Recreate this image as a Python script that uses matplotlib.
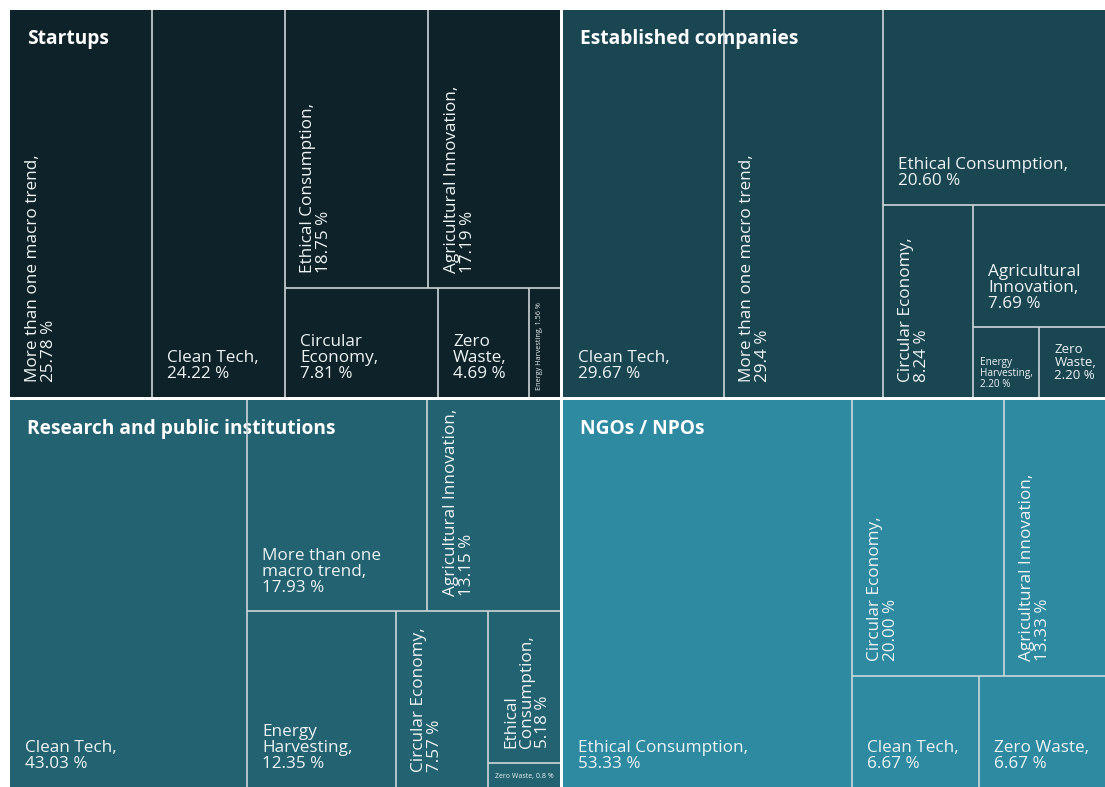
import matplotlib
matplotlib.use("Agg")
import matplotlib.pyplot as plt
from matplotlib.patches import Rectangle

plt.rcParams["font.family"] = ["Open Sans", "DejaVu Sans"]

# quadrant titles and fill colours
groups = ["Startups", "Established companies", "Research and public institutions", "NGOs / NPOs"]
group_colors = ["#0e2229", "#1a4652", "#236371", "#2d8aa0"]

startup_labels = ["More than one macro trend,\n{}", "Clean Tech,\n{}", "Ethical Consumption,\n{}",
                  "Agricultural Innovation,\n{}", "Circular\nEconomy,\n{}", "Zero\nWaste,\n{}",
                  "Energy Harvesting, {}"]
startup_pct = ["25.78 %", "24.22 %", "18.75 %", "17.19 %", "7.81 %", "4.69 %", "1.56 %"]
startup_values = [25.78, 24.22, 18.75, 17.19, 7.81, 4.69, 1.56]

established_labels = ["Clean Tech,\n{}", "More than one macro trend,\n{}", "Ethical Consumption,\n{}",
                      "Circular Economy,\n{}", "Agricultural\nInnovation,\n{}", "Energy\nHarvesting,\n{}",
                      "Zero\nWaste,\n{}"]
established_pct = ["29.67 %", "29.4 %", "20.60 %", "8.24 %", "7.69 %", "2.20 %", "2.20 %"]
established_values = [29.67, 29.4, 20.60, 8.24, 7.69, 2.20, 2.20]

research_labels = ["Clean Tech,\n{}", "More than one\nmacro trend,\n{}", "Agricultural Innovation,\n{}",
                   "Energy\nHarvesting,\n{}", "Circular Economy,\n{}", "Ethical\nConsumption,\n{}",
                   "Zero Waste, {}"]
research_pct = ["43.03 %", "17.93 %", "13.15 %", "12.35 %", "7.57 %", "5.18 %", "0.8 %"]
research_values = [43.03, 17.93, 13.15, 12.35, 7.57, 5.18, 0.80]

ngo_labels = ["Ethical Consumption,\n{}", "Circular Economy,\n{}", "Agricultural Innovation,\n{}",
              "Clean Tech,\n{}", "Zero Waste,\n{}"]
ngo_pct = ["53.33 %", "20.00 %", "13.33 %", "6.67 %", "6.67 %"]
ngo_values = [53.33, 20.00, 13.33, 6.67, 6.67]

# how each treemap is split: "h" = side by side, "v" = stacked
startup_tree = ("h", [0, 1, ("v", [("h", [2, 3]), ("h", [4, 5, 6])])])
established_tree = ("h", [0, 1, ("v", [2, ("h", [3, ("v", [4, ("h", [5, 6])])])])])
research_tree = ("h", [0, ("v", [("h", [1, 2]), ("h", [3, 4, ("v", [5, 6])])])])
ngo_tree = ("h", [0, ("v", [("h", [1, 2]), ("h", [3, 4])])])

startup_rot = [90, 0, 90, 90, 0, 0, 90]
established_rot = [0, 90, 0, 90, 0, 0, 0]
research_rot = [0, 0, 90, 0, 90, 90, 0]
ngo_rot = [0, 90, 90, 0, 0]

startup_size = [12.3, 12.3, 12.3, 12.3, 12.3, 12.3, 5.2]
established_size = [12.3, 12.3, 12.3, 12.3, 12.3, 7.2, 9.5]
research_size = [12.3, 12.3, 12.3, 12.3, 12.3, 12.3, 5.0]
ngo_size = [12.3, 12.3, 12.3, 12.3, 12.3]

TEXT = "#eef3f4"
EDGE = "#cdd6d9"


def total(node, values):
    if isinstance(node, int):
        return values[node]
    return sum(total(k, values) for k in node[1])


def layout(node, x0, y0, x1, y1, values, out):
    if isinstance(node, int):
        out[node] = (x0, y0, x1, y1)
        return
    d, kids = node
    sizes = [total(k, values) for k in kids]
    s = sum(sizes)
    pos = x0 if d == "h" else y0
    for k, sz in zip(kids, sizes):
        if d == "h":
            w = (x1 - x0) * sz / s
            layout(k, pos, y0, pos + w, y1, values, out)
        else:
            w = (y1 - y0) * sz / s
            layout(k, x0, pos, x1, pos + w, values, out)
        pos += w


def draw_quadrant(ax, title, color, tree, labels, pct, values, rots, sizes):
    ax.set_xlim(0, 1)
    ax.set_ylim(1, 0)
    ax.axis("off")
    cells = {}
    layout(tree, 0, 0, 1, 1, values, cells)
    for i in range(len(values)):
        x0, y0, x1, y1 = cells[i]
        ax.add_patch(Rectangle((x0, y0), x1 - x0, y1 - y0, facecolor=color, edgecolor="none", zorder=1))
        # only inner borders; the outer edge is the white gap
        if x0 > 1e-9:
            ax.plot([x0, x0], [y0, y1], color=EDGE, lw=1.2, zorder=3, solid_capstyle="butt")
        if y0 > 1e-9:
            ax.plot([x0, x1], [y0, y0], color=EDGE, lw=1.2, zorder=3, solid_capstyle="butt")
        small = sizes[i] < 8
        pad = 5 if small else 11
        ax.annotate(labels[i].format(pct[i]), xy=(x0, y1), xytext=(pad, pad), textcoords="offset points",
                    ha="left", va="bottom", rotation=rots[i], color=TEXT, fontsize=sizes[i],
                    linespacing=1.0, zorder=4)
    ax.annotate(title, xy=(0, 0), xytext=(12, -14), textcoords="offset points", ha="left", va="top",
                color="white", fontsize=13.8, fontweight="bold", zorder=2)


fig = plt.figure(figsize=(11.05, 7.87), dpi=100)
W, H = 1105, 787
boxes = [(10, 10, 560, 397), (563, 10, 1105, 397), (10, 400, 560, 787), (563, 400, 1105, 787)]
data = [
    (startup_tree, startup_labels, startup_pct, startup_values, startup_rot, startup_size),
    (established_tree, established_labels, established_pct, established_values, established_rot, established_size),
    (research_tree, research_labels, research_pct, research_values, research_rot, research_size),
    (ngo_tree, ngo_labels, ngo_pct, ngo_values, ngo_rot, ngo_size),
]
for (l, t, r, b), title, color, d in zip(boxes, groups, group_colors, data):
    ax = fig.add_axes([l / W, 1 - b / H, (r - l) / W, (b - t) / H])
    draw_quadrant(ax, title, color, *d)

fig.savefig("out.png", dpi=100)
